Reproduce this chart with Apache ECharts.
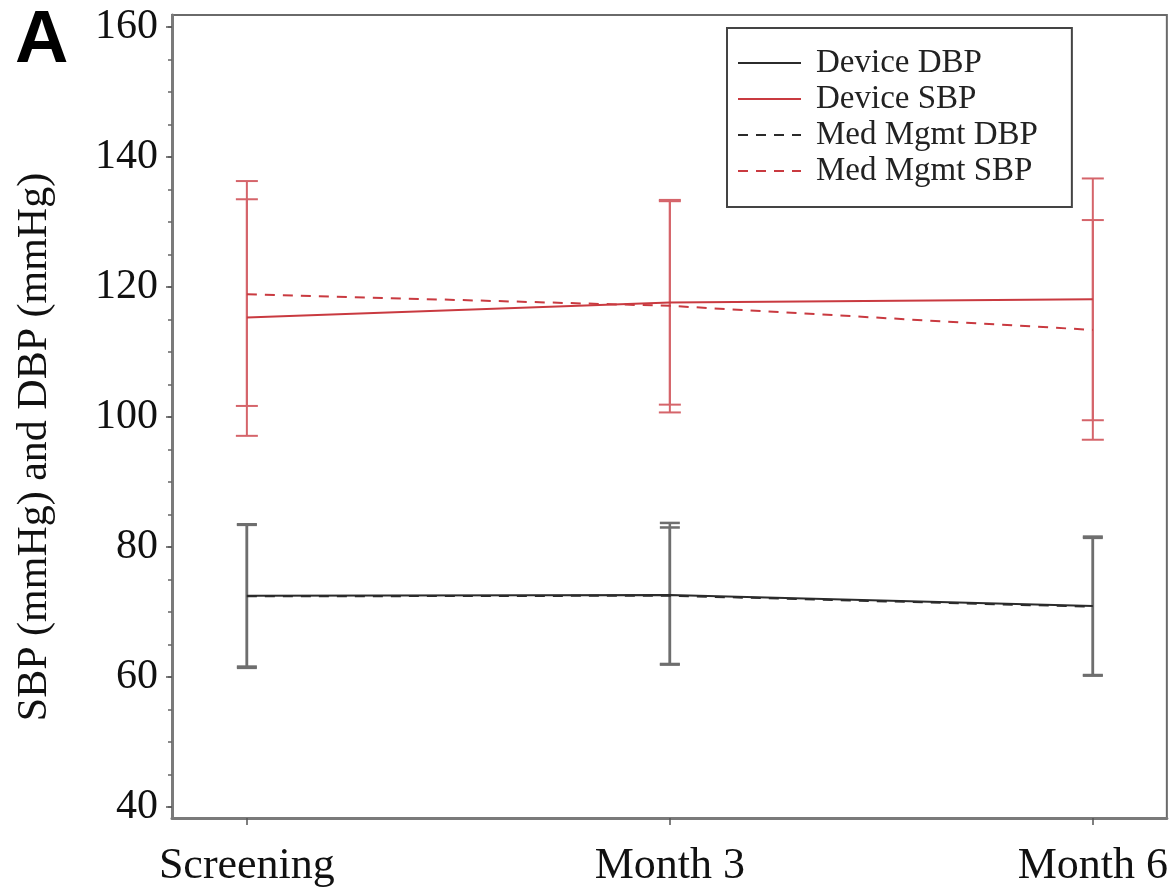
<!DOCTYPE html>
<html>
<head>
<meta charset="utf-8">
<script src="https://cdn.jsdelivr.net/npm/echarts@6/dist/echarts.min.js"></script>
<style>
  html, body { margin: 0; padding: 0; background: #fff; }
  #chart { width: 1171px; height: 893px; }
</style>
</head>
<body>
<div id="chart"></div>
<script>
// Visits along the x axis
const categories = ['Screening', 'Month 3', 'Month 6'];

// Mean blood pressure (mmHg) with lower / upper error-bar limits
const deviceDBP     = [72.5, 72.6, 70.9];
const deviceDBPLow  = [61.6, 62.0, 60.3];
const deviceDBPHigh = [83.4, 83.0, 81.6];

const deviceSBP     = [115.3, 117.6, 118.1];
const deviceSBPLow  = [97.1, 101.9, 99.5];
const deviceSBPHigh = [133.5, 133.4, 136.7];

const medDBP     = [72.4, 72.5, 70.8];
const medDBPLow  = [61.4, 61.9, 60.2];
const medDBPHigh = [83.5, 83.7, 81.4];

const medSBP     = [118.9, 117.1, 113.4];
const medSBPLow  = [101.7, 100.7, 96.5];
const medSBPHigh = [136.3, 133.2, 130.3];

// Axis ticks
const yMajorTicks = [40, 60, 80, 100, 120, 140, 160];
const yMinorTicks = [];
for (let v = 40; v <= 160; v += 5) yMinorTicks.push(v);

const RED = '#c93a40';
const RED_BAR = '#d5646a';
const DARK = '#2b2b2b';
const DARK_BAR = '#6e6e6e';
const SERIF = '"Liberation Serif", "DejaVu Serif", serif';

const pts = (vals) => vals.map((v, i) => [i, v]);
const bars = (lo, hi) => lo.map((v, i) => [i, v, hi[i]]);

function errorBarSeries(name, lo, hi, color, width, cap) {
  return {
    name: name + ' range',
    type: 'custom',
    xAxisIndex: 0,
    yAxisIndex: 0,
    silent: true,
    z: 1,
    data: bars(lo, hi),
    renderItem: function (params, api) {
      const x = api.value(0);
      const pLo = api.coord([x, api.value(1)]);
      const pHi = api.coord([x, api.value(2)]);
      const style = { stroke: color, lineWidth: width };
      return {
        type: 'group',
        children: [
          { type: 'line', shape: { x1: pLo[0], y1: pLo[1], x2: pHi[0], y2: pHi[1] }, style },
          { type: 'line', shape: { x1: pLo[0] - cap, y1: pLo[1], x2: pLo[0] + cap, y2: pLo[1] }, style },
          { type: 'line', shape: { x1: pHi[0] - cap, y1: pHi[1], x2: pHi[0] + cap, y2: pHi[1] }, style }
        ]
      };
    }
  };
}

function lineSeries(name, vals, color, dashed) {
  return {
    name: name,
    type: 'line',
    xAxisIndex: 0,
    yAxisIndex: 0,
    data: pts(vals),
    symbol: 'none',
    showSymbol: false,
    z: 3,
    lineStyle: { color: color, width: 2, type: dashed ? [10, 8] : 'solid' },
    itemStyle: { color: color }
  };
}

const chart = echarts.init(document.getElementById('chart'), null, { renderer: 'canvas' });

chart.setOption({
  animation: false,
  backgroundColor: '#ffffff',
  grid: {
    left: 172, right: 3, top: 15, bottom: 75,
    show: true, borderColor: '#6a6a6a', borderWidth: 2, backgroundColor: 'transparent'
  },
  xAxis: [{
    type: 'value',
    min: -0.177, max: 2.175,
    splitLine: { show: false },
    axisLine: { show: true, onZero: false, lineStyle: { color: '#7a7a7a', width: 3 } },
    axisTick: { show: true, customValues: [0, 1, 2], length: 7, lineStyle: { color: '#555', width: 1.5 } },
    axisLabel: {
      customValues: [0, 1, 2],
      formatter: (v) => categories[Math.round(v)],
      color: '#111', fontFamily: SERIF, fontSize: 44, margin: 26
    }
  }],
  yAxis: [{
    type: 'value',
    min: 38.3, max: 161.85,
    splitLine: { show: false },
    axisLine: { show: true, onZero: false, lineStyle: { color: '#7a7a7a', width: 3 } },
    axisTick: { show: true, customValues: yMinorTicks, length: 4, lineStyle: { color: '#666', width: 1.5 } },
    axisLabel: { show: false }
  }, {
    type: 'value',
    position: 'left',
    min: 38.3, max: 161.85,
    splitLine: { show: false },
    axisLine: { show: false, onZero: false },
    axisTick: { show: true, customValues: yMajorTicks, length: 6, lineStyle: { color: '#555', width: 1.5 } },
    axisLabel: {
      customValues: yMajorTicks,
      color: '#111', fontFamily: SERIF, fontSize: 42, margin: 14
    }
  }],
  legend: {
    orient: 'vertical',
    left: 727, top: 28,
    padding: [17, 34, 18, 10],
    itemGap: 0,
    itemWidth: 63,
    itemHeight: 14,
    borderColor: '#444',
    borderWidth: 2,
    backgroundColor: '#fff',
    itemStyle: { opacity: 0 },
    data: ['Device DBP', 'Device SBP', 'Med Mgmt DBP', 'Med Mgmt SBP'],
    textStyle: { fontFamily: SERIF, fontSize: 33, color: '#222', lineHeight: 36, padding: [0, 0, 0, 10] }
  },
  graphic: [
    {
      type: 'text', left: 15, top: 5,
      style: { text: 'A', font: 'bold 74px "Liberation Sans", Arial, sans-serif', fill: '#000' }
    },
    {
      type: 'text', x: 35, y: 447, rotation: Math.PI / 2,
      style: {
        text: 'SBP (mmHg) and DBP (mmHg)', font: '42px ' + SERIF, fill: '#111',
        align: 'center', verticalAlign: 'middle'
      }
    }
  ],
  series: [
    errorBarSeries('Device DBP', deviceDBPLow, deviceDBPHigh, DARK_BAR, 2.5, 10),
    errorBarSeries('Med Mgmt DBP', medDBPLow, medDBPHigh, DARK_BAR, 2.5, 10),
    errorBarSeries('Device SBP', deviceSBPLow, deviceSBPHigh, RED_BAR, 2, 11),
    errorBarSeries('Med Mgmt SBP', medSBPLow, medSBPHigh, RED_BAR, 2, 11),
    lineSeries('Device DBP', deviceDBP, DARK, false),
    lineSeries('Device SBP', deviceSBP, RED, false),
    lineSeries('Med Mgmt DBP', medDBP, DARK, true),
    lineSeries('Med Mgmt SBP', medSBP, RED, true)
  ]
});
</script>
</body>
</html>
